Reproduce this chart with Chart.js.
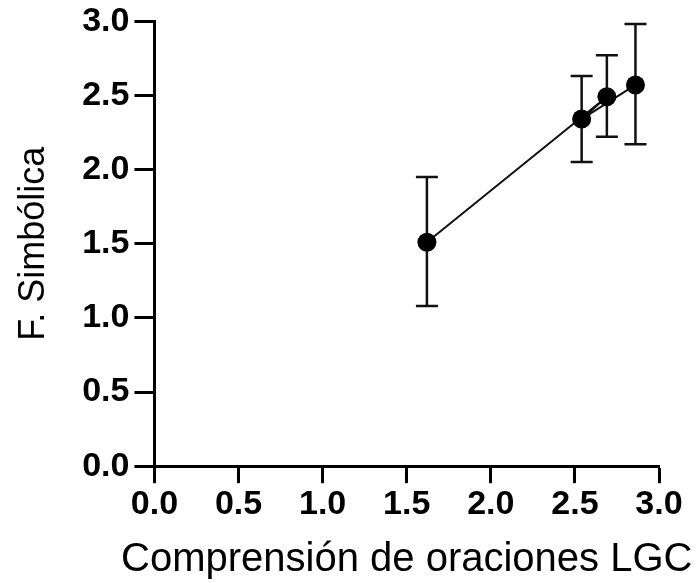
<!DOCTYPE html>
<html>
<head>
<meta charset="utf-8">
<script src="https://cdn.jsdelivr.net/npm/chart.js@4.4.1/dist/chart.umd.min.js"></script>
<style>
  body { margin: 0; background: #fff; }
  #wrap { width: 697px; height: 583px; }
</style>
</head>
<body>
<div id="wrap"><canvas id="chart" width="697" height="583"></canvas></div>
<script>
// Values (points kept in the order the line joins them)
const xVals = [1.62, 2.69, 2.54, 2.86];
const yVals = [1.51, 2.49, 2.34, 2.57];
const yLow = [1.08, 2.22, 2.05, 2.17];
const yHigh = [1.95, 2.77, 2.63, 2.98];

const xTitle = 'Comprensión de oraciones LGC';
const yTitle = 'F. Simbólica';

// Vertical error bars drawn through the chart's own scales
const errorBars = {
    id: 'errorBars',
    beforeDatasetsDraw(chart) {
        const ctx = chart.ctx;
        const xs = chart.scales.x;
        const ys = chart.scales.y;
        ctx.save();
        ctx.strokeStyle = '#111';
        ctx.lineWidth = 2.5;
        for (let i = 0; i < xVals.length; i++) {
            const px = xs.getPixelForValue(xVals[i]);
            const top = ys.getPixelForValue(yHigh[i]);
            const bot = ys.getPixelForValue(yLow[i]);
            ctx.beginPath();
            ctx.moveTo(px, top);
            ctx.lineTo(px, bot);
            ctx.moveTo(px - 11, top);
            ctx.lineTo(px + 11, top);
            ctx.moveTo(px - 11, bot);
            ctx.lineTo(px + 11, bot);
            ctx.stroke();
        }
        ctx.restore();
    }
};

// x title is wider than the axis in the original, so it is drawn here
// instead of through the scale title (which squeezes it to the axis width)
const xTitlePlugin = {
    id: 'xTitle',
    afterDraw(chart) {
        const ctx = chart.ctx;
        const area = chart.chartArea;
        ctx.save();
        ctx.fillStyle = '#000';
        ctx.font = '40px "Liberation Sans", Arial';
        ctx.textAlign = 'center';
        ctx.textBaseline = 'alphabetic';
        ctx.fillText(xTitle, (area.left + area.right) / 2, 571);
        ctx.restore();
    }
};

function axisOptions(tickPadding, tickLength, lineHeight) {
    return {
        type: 'linear',
        min: 0,
        max: 3,
        ticks: {
            stepSize: 0.5,
            color: '#000',
            padding: tickPadding,
            font: { family: 'Liberation Sans, Arial', size: 34, weight: 'bold', lineHeight: lineHeight },
            callback: v => v.toFixed(1)
        },
        grid: {
            display: true,
            drawOnChartArea: false,
            drawTicks: true,
            tickLength: tickLength,
            tickWidth: 3,
            tickColor: '#000'
        },
        border: { display: true, color: '#000', width: 3 }
    };
}

const xAxis = axisOptions(1, 17, 1.2);
const yAxis = axisOptions(5, 20, 0.95);
yAxis.title = {
    display: true,
    text: yTitle,
    color: '#000',
    padding: { top: 4, bottom: 22 },
    font: { family: 'Liberation Sans, Arial', size: 36, weight: 'normal' }
};

const points = xVals.map((x, i) => ({ x: x, y: yVals[i] }));

new Chart(document.getElementById('chart').getContext('2d'), {
    type: 'scatter',
    data: {
        datasets: [{
            data: points,
            showLine: true,
            borderColor: '#111',
            borderWidth: 2,
            pointRadius: 9.5,
            pointBackgroundColor: '#000',
            pointBorderColor: '#000',
            pointBorderWidth: 0,
            clip: false
        }]
    },
    options: {
        responsive: false,
        animation: false,
        layout: { padding: { left: 8, right: 38, top: 0, bottom: 57 } },
        plugins: {
            legend: { display: false },
            tooltip: { enabled: false }
        },
        scales: { x: xAxis, y: yAxis }
    },
    plugins: [errorBars, xTitlePlugin]
});
</script>
</body>
</html>
